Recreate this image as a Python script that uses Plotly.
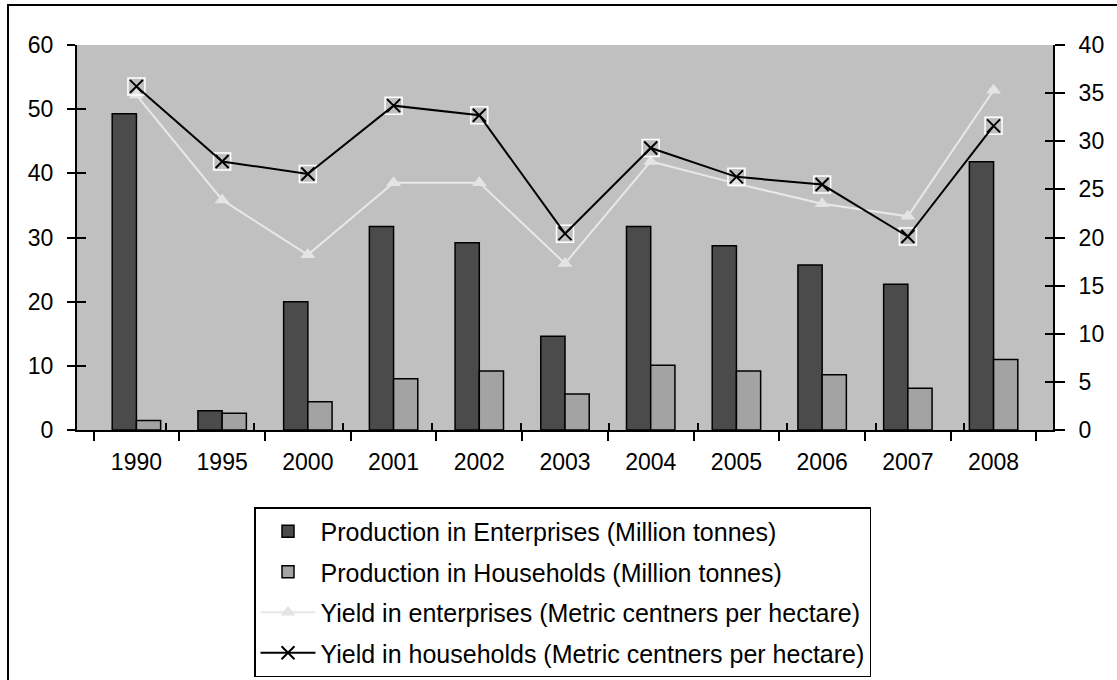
import plotly.graph_objects as go

# ---- data ----
years = ["1990", "1995", "2000", "2001", "2002", "2003", "2004", "2005", "2006", "2007", "2008"]
prod_enterprises = [49.3, 3.0, 20.0, 31.7, 29.2, 14.6, 31.7, 28.7, 25.7, 22.7, 41.8]
prod_households = [1.5, 2.6, 4.4, 8.0, 9.2, 5.6, 10.1, 9.2, 8.6, 6.5, 11.0]
yield_enterprises = [34.8, 23.9, 18.2, 25.7, 25.7, 17.3, 27.9, 25.6, 23.5, 22.2, 35.3]
yield_households = [35.7, 27.9, 26.6, 33.7, 32.7, 20.4, 29.3, 26.3, 25.5, 20.1, 31.6]
left_ticks = [0, 10, 20, 30, 40, 50, 60]
right_ticks = [0, 5, 10, 15, 20, 25, 30, 35, 40]

names = [
    "Production in Enterprises (Million tonnes)",
    "Production in Households (Million tonnes)",
    "Yield in enterprises (Metric centners per hectare)",
    "Yield in households (Metric centners per hectare)",
]

# ---- layout geometry (pixels) ----
W, H = 1117, 680
PL, PR, PT, PB = 77, 1053, 45, 430
FONT = "Liberation Sans, Arial, sans-serif"


def px_x(p):
    return (p - PL) / (PR - PL)


def px_y(p):
    return (PB - p) / (PB - PT)


fig = go.Figure()

fig.add_trace(go.Bar(
    x=years, y=prod_enterprises, name=names[0], legendgroup="a",
    marker=dict(color="#4b4b4b", line=dict(color="black", width=1.5)),
))
fig.add_trace(go.Bar(
    x=years, y=prod_households, name=names[1], legendgroup="b",
    marker=dict(color="#a3a3a3", line=dict(color="black", width=1.5)),
))
fig.add_trace(go.Scatter(
    x=years, y=yield_enterprises, name=names[2], yaxis="y2", legendgroup="c",
    mode="lines+markers",
    line=dict(color="#e8e8e8", width=2),
    marker=dict(symbol="triangle-up", size=13, color="#e4e4e4"),
))
fig.add_trace(go.Scatter(
    x=years, y=yield_households, yaxis="y2", showlegend=False, legendgroup="d",
    mode="markers", hoverinfo="skip",
    marker=dict(symbol="square-open", size=17, color="white", line=dict(width=1.5)),
))
fig.add_trace(go.Scatter(
    x=years, y=yield_households, name=names[3], yaxis="y2", legendgroup="d",
    mode="lines+markers",
    line=dict(color="black", width=2),
    marker=dict(symbol="x-thin-open", size=13, color="black", line=dict(color="black", width=2)),
))

# dummy traces binding the overlay axes used for the inner half of crossing ticks
fig.add_trace(go.Scatter(x=[None], y=[None], xaxis="x2", yaxis="y3", showlegend=False, hoverinfo="skip"))
fig.add_trace(go.Scatter(x=[None], y=[None], xaxis="x2", yaxis="y4", showlegend=False, hoverinfo="skip"))

boundaries = [i - 0.5 for i in range(len(years) + 1)]

tickfont = dict(family=FONT, size=23, color="black")

fig.update_layout(
    width=W, height=H,
    autosize=False,
    margin=dict(l=PL, r=W - PR, t=PT, b=H - PB, pad=0, autoexpand=False),
    paper_bgcolor="white",
    plot_bgcolor="#c0c0c0",
    barmode="group",
    bargap=0.435,
    bargroupgap=0,
    font=dict(family=FONT, color="black"),
    xaxis=dict(
        type="category", tickson="boundaries", ticks="outside", ticklen=9,
        tickwidth=2, tickcolor="black", showline=True, linecolor="black", linewidth=2,
        showgrid=False, zeroline=False, tickfont=tickfont, ticklabelstandoff=10,
        automargin=False,
    ),
    xaxis2=dict(
        overlaying="x", anchor="y", range=[-0.5, len(years) - 0.5], tickvals=boundaries,
        ticks="inside", ticklen=7, tickwidth=2, tickcolor="black",
        showticklabels=False, showline=False, showgrid=False, zeroline=False,
        automargin=False,
    ),
    yaxis=dict(
        range=[0, 60], tickvals=left_ticks, ticks="outside", ticklen=8, tickwidth=2,
        tickcolor="black", showline=True, linecolor="black", linewidth=2,
        showgrid=False, zeroline=False, tickfont=tickfont, ticklabelstandoff=9,
        automargin=False,
    ),
    yaxis2=dict(
        overlaying="y", side="right", range=[0, 40], tickvals=right_ticks,
        ticks="outside", ticklen=10, tickwidth=2, tickcolor="black",
        showline=True, linecolor="black", linewidth=2,
        showgrid=False, zeroline=False, tickfont=tickfont, ticklabelstandoff=9,
        automargin=False,
    ),
    yaxis3=dict(
        overlaying="y", side="left", anchor="x2", range=[0, 60], tickvals=left_ticks,
        ticks="inside", ticklen=9, tickwidth=2, tickcolor="black",
        showticklabels=False, showline=False, showgrid=False, zeroline=False,
        automargin=False,
    ),
    yaxis4=dict(
        overlaying="y", side="right", anchor="x2", range=[0, 40], tickvals=right_ticks,
        ticks="inside", ticklen=8, tickwidth=2, tickcolor="black",
        showticklabels=False, showline=False, showgrid=False, zeroline=False,
        automargin=False,
    ),
    legend=dict(
        x=px_x(254), y=px_y(507), xanchor="left", yanchor="top",
        bgcolor="white", bordercolor="black", borderwidth=1.5,
        font=dict(family=FONT, size=25, color="black"),
        itemwidth=55, traceorder="grouped", tracegroupgap=5,
    ),
    shapes=[dict(
        type="rect", xref="paper", yref="paper",
        x0=px_x(8), x1=px_x(W + 10), y0=px_y(5), y1=px_y(H + 10),
        line=dict(color="black", width=2), fillcolor="rgba(0,0,0,0)", layer="above",
    )],
    showlegend=True,
)

fig.write_html(
    "out.html",
    config={"displayModeBar": False},
    post_script="document.body.style.margin='0';document.body.style.overflow='hidden';",
)
